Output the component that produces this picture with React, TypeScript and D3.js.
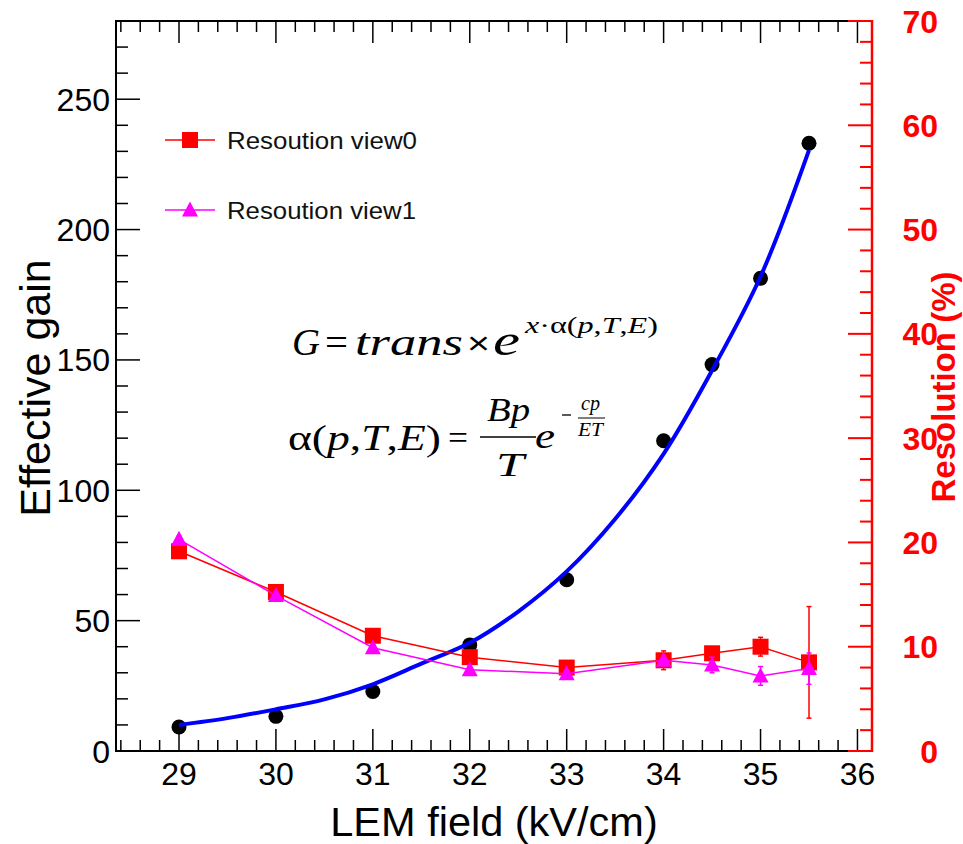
import React from "react";
import * as d3 from "d3";

const fieldKV = [29, 30, 31, 32, 33, 34, 34.5, 35, 35.5];
const gain = [9.2, 13.3, 22.8, 40.7, 65.7, 119, 148.2, 181.3, 233.1];
const fitField = [29, 29.5, 30, 30.5, 31, 31.5, 32, 32.5, 33, 33.5, 34, 34.5, 35, 35.5];
const fitGain = [10.0, 12.6, 16.0, 19.8, 25.6, 33.5, 41.5, 53.5, 68.9, 89, 114, 146, 182, 230.5];
const resView0 = [19.15, 15.25, 11.05, 9.0, 8.0, 8.7, 9.37, 10.0, 8.5];
const resView0Err = [0.3, 0.3, 0.3, 0.3, 0.3, 0.9, 0.6, 0.9, 5.35];
const resView1 = [20.3, 14.9, 9.9, 7.8, 7.4, 8.7, 8.25, 7.2, 7.9];
const resView1Err = [0.3, 0.3, 0.3, 0.3, 0.3, 0.4, 0.75, 0.9, 1.5];
const xMajorTicks = [29, 30, 31, 32, 33, 34, 35, 36];
const gainTicks = [0, 50, 100, 150, 200, 250];
const resTicks = [0, 10, 20, 30, 40, 50, 60, 70];
const legendLabels = ["Resoution view0", "Resoution view1"];

const W = 963;
const H = 844;
const L = 116, R = 872, T = 21, B = 751;
const SANS = "'Liberation Sans', Arial, sans-serif";
const SERIF = "'Liberation Serif', 'Times New Roman', serif";

export default function App() {
  const x = d3.scaleLinear().domain([28.35, 36.15]).range([L, R]);
  const yL = d3.scaleLinear().domain([0, 280]).range([B, T]);
  const yR = d3.scaleLinear().domain([0, 70]).range([B, T]);

  const xMinor = d3.range(142, 181).map((i) => i / 5).filter((v) => Math.abs(v - Math.round(v)) > 1e-6);
  const gainMinor = d3.range(0, 281, 10).filter((v) => v % 50 !== 0);
  const resMinor = d3.range(0, 71, 2).filter((v) => v % 10 !== 0);

  const fitLine = d3
    .line<number>()
    .x((_, i) => x(fitField[i]))
    .y((d) => yL(d))
    .curve(d3.curveCatmullRom);

  const resLine = (vals: number[]) =>
    d3
      .line<number>()
      .x((_, i) => x(fieldKV[i]))
      .y((d) => yR(d))(vals) || "";

  const sq = 16;
  const tri = (cx: number, cy: number) =>
    `M${cx - 8},${cy + 6.5}L${cx + 8},${cy + 6.5}L${cx},${cy - 8.5}Z`;

  const errBars = (vals: number[], errs: number[], color: string) =>
    vals.map((v, i) => {
      const cx = x(fieldKV[i]);
      const y1 = yR(v + errs[i]);
      const y2 = yR(v - errs[i]);
      return (
        <g key={i} stroke={color} strokeWidth={1.5}>
          <line x1={cx} x2={cx} y1={y1} y2={y2} />
          <line x1={cx - 2.5} x2={cx + 2.5} y1={y1} y2={y1} />
          <line x1={cx - 2.5} x2={cx + 2.5} y1={y2} y2={y2} />
        </g>
      );
    });

  return (
    <svg width={W} height={H} style={{ position: "absolute", left: 0, top: 0, background: "#fff" }}>
      <rect x={0} y={0} width={W} height={H} fill="#fff" />
      {/* frame */}
      <rect x={L} y={T} width={R - L} height={B - T} fill="none" stroke="#000" strokeWidth={2} />

      {/* x ticks bottom & top, left ticks */}
      <g stroke="#000" strokeWidth={1.5}>
        {xMajorTicks.map((v) => (
          <g key={"xm" + v}>
            <line x1={x(v)} x2={x(v)} y1={B} y2={B - 22} />
            <line x1={x(v)} x2={x(v)} y1={T} y2={T + 22} />
          </g>
        ))}
        {xMinor.map((v) => (
          <g key={"xn" + v}>
            <line x1={x(v)} x2={x(v)} y1={B} y2={B - 11} />
            <line x1={x(v)} x2={x(v)} y1={T} y2={T + 11} />
          </g>
        ))}
        {gainTicks.map((v) => (
          <line key={"gm" + v} x1={L} x2={L + 24} y1={yL(v)} y2={yL(v)} />
        ))}
        {gainMinor.map((v) => (
          <line key={"gn" + v} x1={L} x2={L + 12} y1={yL(v)} y2={yL(v)} />
        ))}
      </g>

      {/* right red axis */}
      <g stroke="#ff0000" strokeWidth={2}>
        <line x1={R} x2={R} y1={T - 1} y2={B + 1} strokeWidth={2.5} />
        {resTicks.map((v) => (
          <line key={"rm" + v} x1={R} x2={R - 24} y1={yR(v)} y2={yR(v)} />
        ))}
        {resMinor.map((v) => (
          <line key={"rn" + v} x1={R} x2={R - 12} y1={yR(v)} y2={yR(v)} />
        ))}
      </g>

      {/* tick labels */}
      <g fontFamily={SANS} fontSize={32} fill="#000">
        {xMajorTicks.map((v) => (
          <text key={"xl" + v} x={x(v)} y={785} textAnchor="middle">
            {v}
          </text>
        ))}
        {gainTicks.map((v) => (
          <text key={"gl" + v} x={110} y={yL(v) + 11.5} textAnchor="end">
            {v}
          </text>
        ))}
      </g>
      <g fontFamily={SANS} fontSize={32} fontWeight="bold" fill="#ff0000">
        {resTicks.map((v) => (
          <text key={"rl" + v} x={938} y={yR(v) + 11.5} textAnchor="end">
            {v}
          </text>
        ))}
      </g>

      {/* axis titles */}
      <text x={494} y={836} textAnchor="middle" fontFamily={SANS} fontSize={41.5} fill="#000">
        LEM field (kV/cm)
      </text>
      <text
        transform={`translate(50,${(T + B) / 2 + 2}) rotate(-90)`}
        textAnchor="middle"
        fontFamily={SANS}
        fontSize={43}
        fill="#000"
      >
        Effective gain
      </text>
      <text
        transform={`translate(955,${(T + B) / 2 + 1}) rotate(-90)`}
        textAnchor="middle"
        fontFamily={SANS}
        fontSize={33}
        fontWeight="bold"
        fill="#ff0000"
      >
        Resolution (%)
      </text>

      {/* gain points */}
      {gain.map((g, i) => (
        <circle key={"c" + i} cx={x(fieldKV[i])} cy={yL(g)} r={7.5} fill="#000" />
      ))}
      {/* fit curve */}
      <path d={fitLine(fitGain) || ""} fill="none" stroke="#0000ff" strokeWidth={4} />

      {/* resolution view0 */}
      <path d={resLine(resView0)} fill="none" stroke="#ff0000" strokeWidth={1.5} />
      {errBars(resView0, resView0Err, "#ff0000")}
      {resView0.map((v, i) => (
        <rect
          key={"s" + i}
          x={x(fieldKV[i]) - sq / 2}
          y={yR(v) - sq / 2}
          width={sq}
          height={sq}
          fill="#ff0000"
        />
      ))}

      {/* resolution view1 */}
      <path d={resLine(resView1)} fill="none" stroke="#ff00ff" strokeWidth={1.5} />
      {errBars(resView1, resView1Err, "#ff00ff")}
      {resView1.map((v, i) => (
        <path key={"t" + i} d={tri(x(fieldKV[i]), yR(v))} fill="#ff00ff" />
      ))}

      {/* legend */}
      <g>
        <line x1={165} x2={215} y1={140} y2={140} stroke="#ff0000" strokeWidth={1.5} />
        <rect x={190 - sq / 2} y={140 - sq / 2} width={sq} height={sq} fill="#ff0000" />
        <text x={227} y={148.5} fontFamily={SANS} fontSize={24.5} fill="#111" textLength={190} lengthAdjust="spacingAndGlyphs">
          {legendLabels[0]}
        </text>
        <line x1={165} x2={215} y1={210} y2={210} stroke="#ff00ff" strokeWidth={1.5} />
        <path d={tri(190, 210)} fill="#ff00ff" />
        <text x={227} y={218.5} fontFamily={SANS} fontSize={24.5} fill="#111" textLength={189} lengthAdjust="spacingAndGlyphs">
          {legendLabels[1]}
        </text>
      </g>

      {/* formulas */}
      <g fontFamily={SERIF} fill="#000">
        <text x={292} y={355} fontSize={37} fontStyle="italic" textLength={28} lengthAdjust="spacingAndGlyphs">G</text>
        <text x={325} y={355} fontSize={37} textLength={23} lengthAdjust="spacingAndGlyphs">=</text>
        <text x={355} y={355} fontSize={37} fontStyle="italic" textLength={108} lengthAdjust="spacingAndGlyphs">trans</text>
        <text x={467} y={354} fontSize={32} fontFamily={SANS} textLength={23} lengthAdjust="spacingAndGlyphs">×</text>
        <text x={493} y={355} fontSize={44} fontStyle="italic" textLength={27} lengthAdjust="spacingAndGlyphs">e</text>
        <text x={525} y={333} fontSize={24} textLength={133} lengthAdjust="spacingAndGlyphs">
          <tspan fontStyle="italic">x</tspan>
          <tspan>·α(</tspan>
          <tspan fontStyle="italic">p</tspan>
          <tspan>,</tspan>
          <tspan fontStyle="italic">T</tspan>
          <tspan>,</tspan>
          <tspan fontStyle="italic">E</tspan>
          <tspan>)</tspan>
        </text>

        <text x={288} y={450} fontSize={35} textLength={153} lengthAdjust="spacingAndGlyphs">
          <tspan>α(</tspan>
          <tspan fontStyle="italic">p</tspan>
          <tspan>,</tspan>
          <tspan fontStyle="italic">T</tspan>
          <tspan>,</tspan>
          <tspan fontStyle="italic">E</tspan>
          <tspan>)</tspan>
        </text>
        <text x={448} y={449} fontSize={34} textLength={20} lengthAdjust="spacingAndGlyphs">=</text>
        <text x={487} y={421} fontSize={33} fontStyle="italic" textLength={43} lengthAdjust="spacingAndGlyphs">Bp</text>
        <line x1={480} x2={536} y1={437} y2={437} stroke="#000" strokeWidth={1.5} />
        <text x={496} y={476} fontSize={34} fontStyle="italic" textLength={28} lengthAdjust="spacingAndGlyphs">T</text>
        <text x={535} y={448} fontSize={36} fontStyle="italic" textLength={20} lengthAdjust="spacingAndGlyphs">e</text>
        <line x1={562} x2={571} y1={415} y2={415} stroke="#000" strokeWidth={1.3} />
        <text x={581} y={410} fontSize={20} fontStyle="italic" textLength={19} lengthAdjust="spacingAndGlyphs">cp</text>
        <line x1={578} x2={605} y1={418} y2={418} stroke="#000" strokeWidth={1} />
        <text x={578} y={436} fontSize={19} fontStyle="italic" textLength={25} lengthAdjust="spacingAndGlyphs">ET</text>
      </g>
    </svg>
  );
}
